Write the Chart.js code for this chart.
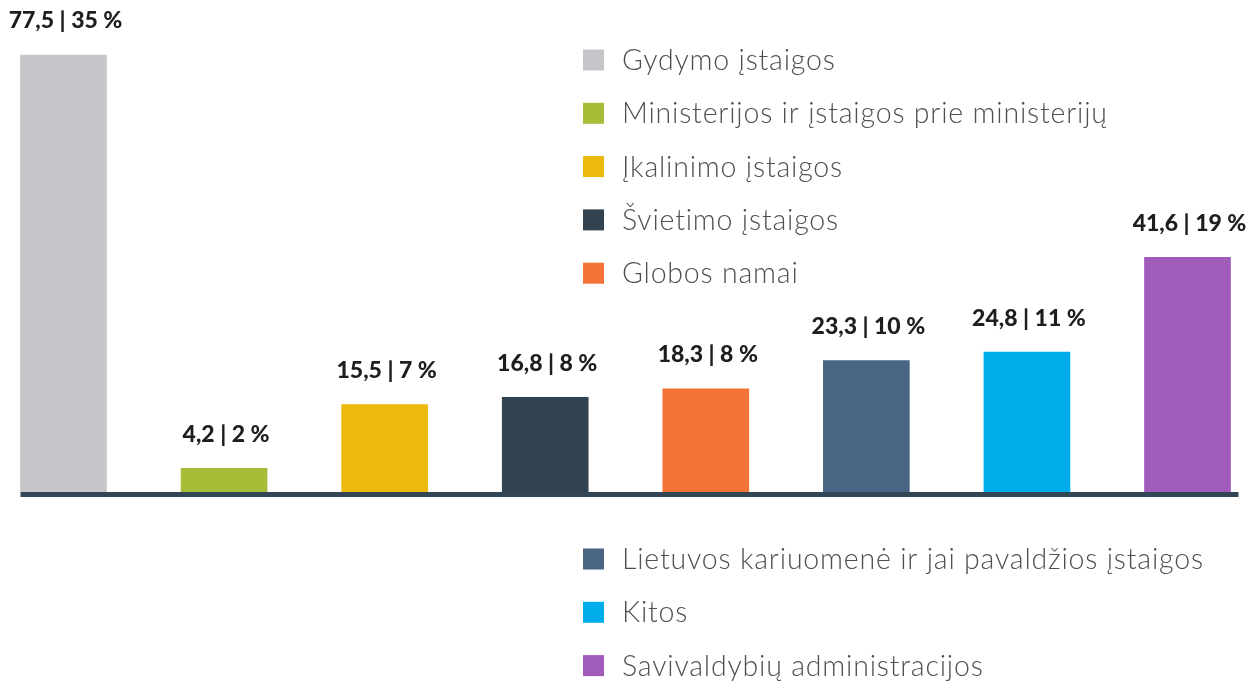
<!DOCTYPE html>
<html>
<head>
<meta charset="utf-8">
<script src="https://cdn.jsdelivr.net/npm/chart.js@4.4.0/dist/chart.umd.min.js"></script>
<style>
  html, body { margin: 0; padding: 0; background: #ffffff; }
  #wrap { width: 1255px; height: 684px; position: relative; }
</style>
</head>
<body>
<div id="wrap"><canvas id="chart"></canvas></div>
<script>
const categories = [
  'Gydymo įstaigos',
  'Ministerijos ir įstaigos prie ministerijų',
  'Įkalinimo įstaigos',
  'Švietimo įstaigos',
  'Globos namai',
  'Lietuvos kariuomenė ir jai pavaldžios įstaigos',
  'Kitos',
  'Savivaldybių administracijos'
];
const values = [77.5, 4.2, 15.5, 16.8, 18.3, 23.3, 24.8, 41.6];
const shares = [35, 2, 7, 8, 8, 10, 11, 19];
const barColors = ['#c6c5ca', '#a5bd37', '#ecb90c', '#324352', '#f47337', '#4a6584', '#00adeb', '#a05bbb'];
const legendTop = [0, 1, 2, 3, 4];   // legend block above the axis
const legendBottom = [5, 6, 7];      // legend block below the axis

const fmt = v => v.toFixed(1).replace('.', ',');

// value labels above bars, axis line, custom legend
const extras = {
  id: 'extras',
  afterDatasetsDraw(chart) {
    const ctx = chart.ctx;
    const meta = chart.getDatasetMeta(0);
    const y0 = chart.scales.y.getPixelForValue(0);
    ctx.save();
    // axis line
    const first = meta.data[0], last = meta.data[meta.data.length - 1];
    ctx.fillStyle = '#334655';
    ctx.fillRect(first.x - first.width / 2, y0, (last.x + last.width / 2 + 8) - (first.x - first.width / 2), 5);
    // labels
    ctx.fillStyle = '#1e1e1e';
    ctx.font = '900 23px Lato';
    ctx.textAlign = 'center';
    ctx.textBaseline = 'middle';
    meta.data.forEach((bar, i) => {
      ctx.fillText(fmt(values[i]) + ' | ' + shares[i] + ' %', bar.x + 2, bar.y - 34);
    });
    // legend
    ctx.textAlign = 'left';
    ctx.font = '300 28.5px Lato';
    ctx.letterSpacing = '0.8px';
    const drawBlock = (idx, startY) => {
      idx.forEach((k, j) => {
        const cy = startY + j * 53.3;
        ctx.fillStyle = barColors[k];
        ctx.fillRect(583, cy - 10.5, 21, 21);
        ctx.fillStyle = '#4f4f4f';
        ctx.fillText(categories[k], 622, cy + 1);
      });
    };
    drawBlock(legendTop, 60);
    drawBlock(legendBottom, 559);
    ctx.restore();
  }
};

new Chart(document.getElementById('chart'), {
  type: 'bar',
  data: {
    labels: categories,
    datasets: [{
      data: values,
      backgroundColor: barColors,
      barThickness: 86,
      borderWidth: 0,
      clip: false
    }]
  },
  options: {
    responsive: true,
    maintainAspectRatio: false,
    animation: false,
    layout: {
      padding: { left: 63.5, right: 67.5, top: 55, bottom: 192 }
    },
    plugins: {
      legend: { display: false },
      tooltip: { enabled: false }
    },
    scales: {
      x: {
        display: false,
        offset: false
      },
      y: {
        min: 0,
        max: 77.5,
        display: false
      }
    }
  },
  plugins: [extras]
});
</script>
</body>
</html>
